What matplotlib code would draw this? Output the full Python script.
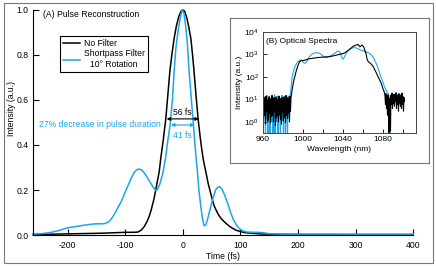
import matplotlib
matplotlib.use('Agg')
import matplotlib.pyplot as plt
import numpy as np
from matplotlib.patches import Rectangle
from matplotlib.ticker import NullLocator

plt.rcParams['font.family'] = ['Liberation Sans', 'DejaVu Sans']
plt.rcParams['font.size'] = 6
plt.rcParams['axes.unicode_minus'] = False
plt.rcParams['mathtext.fontset'] = 'custom'
plt.rcParams['mathtext.rm'] = 'Liberation Sans'
plt.rcParams['mathtext.it'] = 'Liberation Sans:italic'

BLUE = '#1ba6ea'

# (A) pulse reconstruction, time in fs
t_nofilter = [-260, -240, -220, -200, -180, -160, -140, -120, -100, -85,
              -78, -72, -67, -62, -58, -55, -50, -47, -44, -41,
              -38, -34, -29.5, -26, -22.5, -19, -15, -11, -7, -3,
              0, 3, 7, 10, 14, 17, 19.6, 23, 26.6, 30,
              33, 36, 40, 44, 47, 51, 54, 58, 62, 67,
              72, 78, 85, 92, 100, 110, 120, 135, 150, 175,
              200, 250, 300, 350, 400]
i_nofilter = [0.002, 0.003, 0.004, 0.005, 0.006, 0.007, 0.008, 0.010, 0.012, 0.012,
              0.013, 0.022, 0.037, 0.060, 0.085, 0.110, 0.160, 0.200, 0.240, 0.280,
              0.345, 0.420, 0.516, 0.620, 0.726, 0.800, 0.874, 0.930, 0.970, 0.995,
              1.0, 0.995, 0.965, 0.930, 0.874, 0.800, 0.726, 0.620, 0.516, 0.440,
              0.380, 0.330, 0.281, 0.230, 0.200, 0.160, 0.133, 0.110, 0.090, 0.072,
              0.059, 0.045, 0.032, 0.022, 0.015, 0.010, 0.008, 0.005, 0.004, 0.003,
              0.002, 0.002, 0.001, 0.001, 0.001]

t_short = [-260, -245, -230, -215, -200, -185, -170, -155, -145, -137,
           -130, -125, -118, -112, -107, -100, -95, -90, -85, -80,
           -76, -72, -68, -64, -58, -52, -47, -44, -40, -35,
           -30, -26.5, -22, -18, -15, -12, -8, -4, -1, 2,
           5, 8, 11, 15, 18.5, 20, 22.5, 25.4, 28, 31,
           34, 37, 40, 43, 47, 52, 57, 61, 64, 68,
           73, 78, 83, 88, 93, 97.6, 103, 110, 120, 130,
           140, 150, 170, 200, 250, 300, 400]
i_short = [0.004, 0.006, 0.011, 0.02, 0.032, 0.038, 0.044, 0.049, 0.05, 0.05,
           0.056, 0.068, 0.095, 0.125, 0.148, 0.19, 0.22, 0.25, 0.275, 0.29,
           0.293, 0.29, 0.28, 0.265, 0.24, 0.215, 0.198, 0.202, 0.225, 0.27,
           0.34, 0.41, 0.489, 0.6, 0.726, 0.83, 0.91, 0.97, 1.0, 0.985,
           0.93, 0.85, 0.726, 0.6, 0.489, 0.44, 0.36, 0.281, 0.2, 0.133,
           0.075, 0.041, 0.045, 0.07, 0.11, 0.16, 0.2, 0.213, 0.215, 0.205,
           0.175, 0.14, 0.1, 0.068, 0.045, 0.03, 0.02, 0.014, 0.012, 0.012,
           0.01, 0.006, 0.004, 0.004, 0.004, 0.004, 0.004]

fwhm_nofilter = 56
fwhm_short = 41
level_nofilter = 0.516
level_short = 0.489

# (B) optical spectra, wavelength in nm
bk_noise_left = [9, 1.5, 12, 2, 6, 0.8, 14, 3, 10, 1,
                 7, 1.2, 13, 2.5, 8, 0.9, 11, 1.8, 15, 2,
                 6, 1, 12, 3, 9, 0.7, 13, 1.5, 10, 2,
                 7, 1, 14, 2.2, 8, 1.3, 11, 0.8, 12, 2.8,
                 9, 1.1, 13, 1.6, 10, 0.9, 15, 2, 8, 1.4,
                 12, 2.5, 11, 1, 14, 3, 12, 16]
bk_wl_mid = [989, 990, 991, 992, 993, 994, 995, 996, 997, 998,
             1000, 1002, 1004, 1006, 1008, 1010, 1012, 1014, 1016, 1018,
             1020, 1022, 1024, 1026, 1028, 1030, 1032, 1034, 1036, 1038,
             1040, 1042, 1044, 1046, 1048, 1050, 1052, 1054, 1055, 1056,
             1057, 1058, 1059, 1060, 1061, 1062, 1063, 1064, 1065, 1066,
             1068, 1070, 1072, 1074, 1076, 1078, 1080, 1081.5]
bk_mid = [25, 45, 75, 110, 170, 240, 330, 420, 490, 520,
          540, 560, 600, 640, 660, 680, 700, 720, 740, 750,
          760, 770, 780, 800, 820, 860, 900, 950, 1000, 1050,
          1100, 1200, 1400, 1650, 1900, 2300, 2500, 2700, 2800, 2500,
          2200, 2400, 2600, 2400, 2000, 1500, 1100, 650, 500, 450,
          380, 300, 200, 130, 85, 55, 30, 20]
bk_noise_right = [14, 6, 18, 4, 12, 2, 16, 5, 0.15, 11,
                  3, 0.4, 15, 6, 19, 4, 13, 7, 17, 5,
                  14, 8, 20, 4, 12, 6, 16, 3, 18, 7,
                  11, 5, 15, 4, 19, 6, 13, 3, 12, 8]

bl_noise_left = [10, 1.2, 13, 2, 8, 0.1, 12, 1.5, 15, 0.8,
                 0.1, 11, 1.8, 14, 0.1, 9, 2, 12, 1, 13,
                 0.1, 10, 1.5, 16, 0.1, 9, 2.5, 12, 1, 14,
                 0.1, 10, 1.8, 13, 0.9, 0.1, 11, 2, 15, 1.2,
                 9, 0.1, 12, 1.6, 14, 0.1, 10, 2, 13, 0.1,
                 11, 1.5, 14, 2.5, 12, 18, 30, 55]
bl_wl_mid = [989, 990, 991, 992, 993, 994, 995, 996, 997, 998,
             999, 1000, 1001, 1002, 1003, 1004, 1005, 1006, 1008, 1010,
             1012, 1014, 1016, 1018, 1020, 1022, 1024, 1026, 1028, 1030,
             1032, 1034, 1036, 1037, 1038, 1039, 1040, 1041, 1042, 1044,
             1046, 1048, 1050, 1052, 1054, 1056, 1058, 1060, 1062, 1064,
             1066, 1068, 1070, 1072, 1074, 1076, 1078, 1080, 1082, 1084,
             1085.5]
bl_mid = [90, 150, 220, 290, 360, 420, 480, 530, 560, 570,
          540, 470, 420, 400, 430, 500, 620, 750, 950, 1100,
          1180, 1200, 1150, 1020, 860, 740, 720, 800, 900, 1000,
          1150, 1350, 1400, 1250, 950, 700, 620, 700, 900, 1300,
          1600, 1850, 2000, 2000, 1900, 1700, 1550, 1450, 1350, 1250,
          1150, 1000, 780, 520, 330, 180, 100, 56, 32, 22,
          16]
bl_noise_right = [13, 8, 0.1, 15, 9, 17, 7, 12, 10, 16,
                  6, 14, 9, 18, 8, 13, 11, 15, 7, 17,
                  9, 12, 6, 16, 10, 14, 8, 18, 7, 13,
                  9, 12]

wl_black = np.concatenate([np.arange(960, 988.6, 0.5), bk_wl_mid, np.arange(1082, 1101.6, 0.5)])
sp_black = np.concatenate([bk_noise_left, bk_mid, bk_noise_right])
wl_blue = np.concatenate([np.arange(960, 988.6, 0.5), bl_wl_mid, np.arange(1086, 1101.6, 0.5)])
sp_blue = np.concatenate([bl_noise_left, bl_mid, bl_noise_right])

fig = plt.figure(figsize=(4.36, 2.66), dpi=100)

# main panel
ax = fig.add_axes([0.0757, 0.1165, 0.872, 0.846])
ax.plot(t_nofilter, i_nofilter, color='black', lw=1.1, label='No Filter', clip_on=False)
ax.plot(t_short, i_short, color=BLUE, lw=1.1, label='Shortpass Filter\n10\u00b0 Rotation', clip_on=False)
ax.set_xlim(-260, 400)
ax.set_ylim(0, 1.0)
ax.set_xticks([-200, -100, 0, 100, 200, 300, 400])
ax.set_yticks([0.0, 0.2, 0.4, 0.6, 0.8, 1.0])
ax.set_yticklabels(['0.0', '0.2', '0.4', '0.6', '0.8', '1.0'])
for s in ['top', 'right']:
    ax.spines[s].set_visible(False)
for s in ['left', 'bottom']:
    ax.spines[s].set_linewidth(0.8)
ax.tick_params(direction='in', length=4, width=0.8, labelsize=6.2)
ax.tick_params(axis='x', pad=4)
ax.tick_params(axis='y', pad=3)
ax.set_xlabel('Time (fs)', fontsize=6.2, labelpad=2)
ax.set_ylabel('Intensity (a.u.)', fontsize=6.2)
ax.yaxis.set_label_coords(-0.046, 0.56)

ax.text(0.026, 0.978, '(A) Pulse Reconstruction', transform=ax.transAxes,
        ha='left', va='center', fontsize=6.2)

leg = ax.legend(loc='upper left', bbox_to_anchor=(0.071, 0.884), frameon=True,
                fancybox=False, edgecolor='black', framealpha=1, borderpad=0.35,
                handlelength=2.0, handletextpad=0.4, labelspacing=0.15,
                borderaxespad=0, fontsize=6.2)
leg.get_frame().set_linewidth(0.8)
for txt in leg.get_texts():
    txt.set_multialignment('center')

ax.annotate('', xy=(-fwhm_nofilter / 2, level_nofilter), xytext=(fwhm_nofilter / 2, level_nofilter),
            arrowprops=dict(arrowstyle='<|-|>', color='black', lw=0.8, mutation_scale=5,
                            shrinkA=0, shrinkB=0))
ax.annotate('', xy=(-fwhm_short / 2, level_short), xytext=(fwhm_short / 2, level_short),
            arrowprops=dict(arrowstyle='<|-|>', color=BLUE, lw=0.8, mutation_scale=5,
                            shrinkA=0, shrinkB=0))
ax.text(0, 0.545, '%d fs' % fwhm_nofilter, ha='center', va='center', fontsize=6.2, color='black')
ax.text(0, 0.442, '%d fs' % fwhm_short, ha='center', va='center', fontsize=6.2, color=BLUE)
ax.text(-249, level_short, '27% decrease in pulse duration', ha='left', va='center',
        fontsize=6.2, color=BLUE)

# inset frame
frame = fig.add_axes([0.5275, 0.3872, 0.4564, 0.5451])
frame.set_xticks([])
frame.set_yticks([])
for s in frame.spines.values():
    s.set_color('#777777')
    s.set_linewidth(0.8)

# (B) inset
ins = fig.add_axes([0.6032, 0.5, 0.3509, 0.3797])
ins.plot(wl_blue, sp_blue, color=BLUE, lw=0.8)
ins.plot(wl_black, sp_black, color='black', lw=0.8)
ins.set_yscale('log')
ins.set_xlim(960, 1113)
ins.set_ylim(0.32, 1e4)
ins.set_yticks([1, 10, 100, 1000, 10000])
ins.set_yticklabels(['$10^{0}$', '$10^{1}$', '$10^{2}$', '$10^{3}$', '$10^{4}$'])
ins.yaxis.set_minor_locator(NullLocator())
ins.set_xticks(np.arange(960, 1101, 20))
ins.set_xticklabels(['960', '', '1000', '', '1040', '', '1080', ''])
ins.tick_params(direction='in', length=3, width=0.6, labelsize=6)
ins.tick_params(axis='x', pad=2.5)
ins.tick_params(axis='y', pad=3)
for s in ins.spines.values():
    s.set_color('#444444')
    s.set_linewidth(0.7)
ins.set_xlabel('Wavelength (nm)', fontsize=6, labelpad=2)
ins.set_ylabel('Intensity (a.u.)', fontsize=6, labelpad=1)
ins.text(0.02, 0.91, '(B) Optical Spectra', transform=ins.transAxes,
         ha='left', va='center', fontsize=6)

# outer border
fig.add_artist(Rectangle((0.0092, 0.0113), 0.984, 0.977, fill=False,
                         edgecolor='#777777', lw=0.8, transform=fig.transFigure))

fig.savefig('out.png', dpi=100)
